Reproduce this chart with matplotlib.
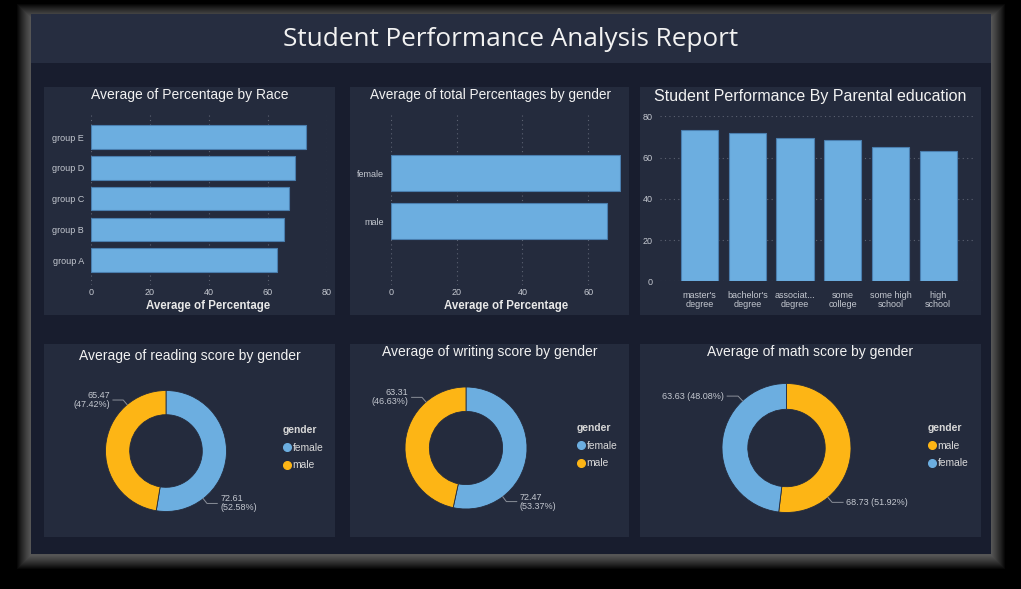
import numpy as np
import matplotlib
matplotlib.use("Agg")
import matplotlib.pyplot as plt
from matplotlib.patches import Rectangle
from matplotlib.lines import Line2D

# data
race_groups = ["group A", "group B", "group C", "group D", "group E"]
race_pct = [62.99, 65.47, 67.13, 69.18, 72.75]

genders = ["male", "female"]
gender_pct = [65.84, 69.57]

parent_edu = ["master's\ndegree", "bachelor's\ndegree", "associat...\ndegree",
              "some\ncollege", "some high\nschool", "high\nschool"]
parent_pct = [73.60, 71.92, 69.57, 68.48, 65.11, 63.10]

reading_labels = ["female", "male"]
reading_vals = [72.608, 65.473]
writing_labels = ["female", "male"]
writing_vals = [72.467, 63.311]
math_labels = ["male", "female"]
math_vals = [68.728, 63.633]

W, H = 1021, 589
BLUE = "#6caee0"
EDGE = "#4a7eae"
ORANGE = "#fdb515"
GCOL = {"female": BLUE, "male": ORANGE}
PANEL = "#242b3d"
BODY = "#181d2e"
TOPBAR = "#262d40"
TICK = "#c4c8d0"
TITLE = "#f2f2f2"
FONT = "Liberation Sans"

plt.rcParams["font.family"] = FONT


def box(x0, y0, x1, y1):
    return [x0 / W, 1 - y1 / H, (x1 - x0) / W, (y1 - y0) / H]


def rect(x0, y0, x1, y1, color, z=-5, alpha=1.0):
    fig.add_artist(Rectangle((x0 / W, 1 - y1 / H), (x1 - x0) / W, (y1 - y0) / H,
                             transform=fig.transFigure, facecolor=color,
                             edgecolor="none", alpha=alpha, zorder=z))


def ftext(x, y, s, size, **kw):
    kw.setdefault("color", TITLE)
    kw.setdefault("ha", "center")
    kw.setdefault("va", "center")
    fig.text(x / W, 1 - y / H, s, fontsize=size, **kw)


fig = plt.figure(figsize=(W / 100, H / 100), dpi=100)
fig.patch.set_facecolor("black")

# soft glow around the frame, shifted a little downwards
for i in range(14, 0, -1):
    rect(31 - i, 14 - i + 4, 991 + i, 554 + i + 1, "#ffffff", z=-20, alpha=0.033)
rect(31, 14, 991, 554, BODY, z=-10)
rect(31, 14, 991, 63, TOPBAR, z=-9)
ftext(511, 39, "Student Performance Analysis Report", 18.8, family="Open Sans")

panels = [(44, 87, 335, 315), (350, 87, 629, 315), (640, 87, 981, 315),
          (44, 344, 335, 537), (350, 344, 629, 537), (640, 344, 981, 537)]
for p in panels:
    rect(*p, PANEL, z=-8)


def style_bar_axes(ax):
    ax.set_facecolor("none")
    for s in ax.spines.values():
        s.set_visible(False)
    ax.tick_params(length=0, colors=TICK, labelsize=6.5)


# --- chart 1: race
ax1 = fig.add_axes(box(91, 115, 327, 285))
style_bar_axes(ax1)
ax1.barh(race_groups, race_pct, height=0.77, color=BLUE, edgecolor=EDGE, lw=0.8, zorder=3)
ax1.set_xlim(0, 80)
ax1.set_ylim(-0.81, 4.72)
ax1.set_xticks([0, 20, 40, 60, 80])
ax1.grid(axis="x", linestyle=(0, (1, 3)), color="#5c6272", lw=0.8)
ax1.tick_params(axis="x", pad=2)
ax1.tick_params(axis="y", pad=5)
ftext(190, 95, "Average of Percentage by Race", 10)
ftext(208, 305.5, "Average of Percentage", 8.3, weight="bold", color="#e8e8e8")

# --- chart 2: gender
ax2 = fig.add_axes(box(391, 115, 621, 285))
style_bar_axes(ax2)
ax2.barh(genders, gender_pct, height=0.75, color=BLUE, edgecolor=EDGE, lw=0.8, zorder=3)
ax2.set_xlim(0, 70)
ax2.set_ylim(-1.33, 2.21)
ax2.set_xticks([0, 20, 40, 60])
ax2.grid(axis="x", linestyle=(0, (1, 3)), color="#5c6272", lw=0.8)
ax2.tick_params(axis="x", pad=2)
ax2.tick_params(axis="y", pad=5)
ftext(490, 95, "Average of total Percentages by gender", 9.8)
ftext(506, 305.5, "Average of Percentage", 8.3, weight="bold", color="#e8e8e8")

# --- chart 3: parental education
ax3 = fig.add_axes(box(660, 116.3, 974, 281.3))
style_bar_axes(ax3)
ax3.bar(parent_edu, parent_pct, width=0.78, color=BLUE, edgecolor=EDGE, lw=0.8, zorder=3)
ax3.set_ylim(0, 80)
ax3.set_xlim(-0.83, 5.75)
ax3.set_yticks([0, 20, 40, 60, 80])
ax3.grid(axis="y", linestyle=(0, (1, 3)), color="#5c6272", lw=0.8)
ax3.tick_params(axis="x", pad=7, labelsize=6.5)
ax3.tick_params(axis="y", pad=5)
for t in ax3.get_xticklabels():
    t.set_linespacing(0.95)
ftext(810, 97, "Student Performance By Parental education", 11.5)


# --- donuts
def donut(cx, cy, R, labels, vals, title, tx, ty, angs, one_line, leg_xy):
    L = 1.6
    ax = fig.add_axes(box(cx - L * R, cy - L * R, cx + L * R, cy + L * R))
    ax.pie(vals, colors=[GCOL[g] for g in labels], startangle=90, counterclock=False,
           wedgeprops=dict(width=0.4, edgecolor=PANEL, lw=0.6))
    ax.set_xlim(-L, L)
    ax.set_ylim(-L, L)
    ax.set_aspect("equal")
    tot = sum(vals)
    for v, a in zip(vals, angs):
        p = 100 * v / tot
        s = f"{v:.2f} ({p:.2f}%)" if one_line else f"{v:.2f}\n({p:.2f}%)"
        r = np.deg2rad(a)
        x0, y0 = np.cos(r), np.sin(r)
        x1, y1 = 1.1 * x0, 1.1 * y0
        sgn = 1 if x0 > 0 else -1
        x2 = x1 + sgn * 0.17
        ax.plot([x0, x1, x2], [y0, y1, y1], color="#8a8f99", lw=0.7, clip_on=False)
        ax.text(x2 + sgn * 0.05, y1, s, ha="left" if sgn > 0 else "right", va="center",
                fontsize=6.5, color=TICK, linespacing=1.0)
    ftext(tx, ty, title, 10)
    handles = [Line2D([], [], ls="none", marker="o", ms=5.5, color=GCOL[g]) for g in labels]
    leg = ax.legend(handles, labels, title="gender", loc="upper left",
                    bbox_to_anchor=(leg_xy[0] / W, 1 - leg_xy[1] / H),
                    bbox_transform=fig.transFigure, frameon=False, fontsize=7.4,
                    title_fontproperties=dict(weight="bold", size=7.4),
                    alignment="left", handlelength=0.7, handletextpad=0.25,
                    labelspacing=0.75, borderaxespad=0, borderpad=0)
    leg.get_title().set_color("#d8d8d8")
    for t in leg.get_texts():
        t.set_color("#d8d8d8")


donut(166, 451, 60.5, reading_labels, reading_vals, "Average of reading score by gender",
      190, 356, [-52, 130], False, (283, 425))
donut(466, 448, 61, writing_labels, writing_vals, "Average of writing score by gender",
      490, 352, [-53, 131], False, (577, 423))
donut(786.5, 448, 64.5, math_labels, math_vals, "Average of math score by gender",
      810, 352, [-50, 133], True, (928, 423))

fig.savefig("out.png", dpi=100, facecolor=fig.get_facecolor())
